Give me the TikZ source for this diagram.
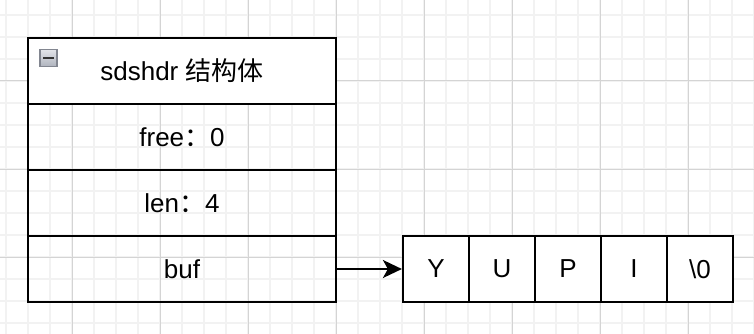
\documentclass[tikz,border=0pt]{standalone}
\usepackage{fontspec}
\setmainfont{Liberation Sans}
\newfontfamily\cjk{Noto Sans CJK SC}
\usetikzlibrary{arrows.meta, math}
\definecolor{gridminor}{RGB}{242,242,242}
\definecolor{gridmajor}{RGB}{212,212,212}
\definecolor{icontop}{RGB}{226,228,233}
\definecolor{iconbot}{RGB}{176,180,190}
\definecolor{iconline}{RGB}{130,134,144}

\begin{document}
\begin{tikzpicture}[x=1pt, y=-1pt,
  field/.style={draw, line width=2.2pt, minimum width=308pt, minimum height=66pt,
    inner sep=0pt, font=\fontsize{26}{30}\selectfont},
  cell/.style={draw, fill=white, line width=2.2pt, minimum width=66pt, minimum height=66pt,
    inner sep=0pt, font=\fontsize{26}{30}\selectfont}]
\tikzmath{
\W=754;
\H=334;
\g=22;
\c=66;
}
\useasboundingbox (0,0) rectangle (\W,\H);

%grid:
 \foreach \i in {0,...,34}
  \draw[gridminor, line width=1.2pt] ({6+\i*\g},0) -- ({6+\i*\g},\H);
 \foreach \i in {0,...,14}
  \draw[gridminor, line width=1.2pt] (0,{15+\i*\g}) -- (\W,{15+\i*\g});
 \foreach \i in {0,...,7}
  \draw[gridmajor, line width=1pt] ({72+\i*4*\g},0) -- ({72+\i*4*\g},\H);
 \foreach \i in {0,...,2}
  \draw[gridmajor, line width=1pt] (0,{81+\i*4*\g}) -- (\W,{81+\i*4*\g});

%struct:
 \node[field, fill=white] (head) at (182,71) {sdshdr {\cjk 结构体}};
 \node[field] (free) at (182,137) {free{\cjk ：}0};
 \node[field] (len) at (182,203) {len{\cjk ：}4};
 \node[field] (buf) at (182,269) {buf};

%collapse icon
 \node[draw=iconline, line width=1.2pt, top color=icontop, bottom color=iconbot,
   minimum size=17pt, inner sep=0pt] (toggle) at (48.5,58) {};
 \draw[line width=2.4pt, color=black!80] ([xshift=-5.5pt]toggle.center) -- ([xshift=5.5pt]toggle.center);

%buffer cells
 \foreach \t [count=\i from 0] in {Y,U,P,I,\textbackslash 0}
  \node[cell] (c\i) at ({436+\i*\c},269) {\t};

 \draw[line width=2.2pt, -{Stealth[length=19pt, width=18pt, inset=5pt]}] (buf.east) -- (c0.west);
\end{tikzpicture}
\end{document}
